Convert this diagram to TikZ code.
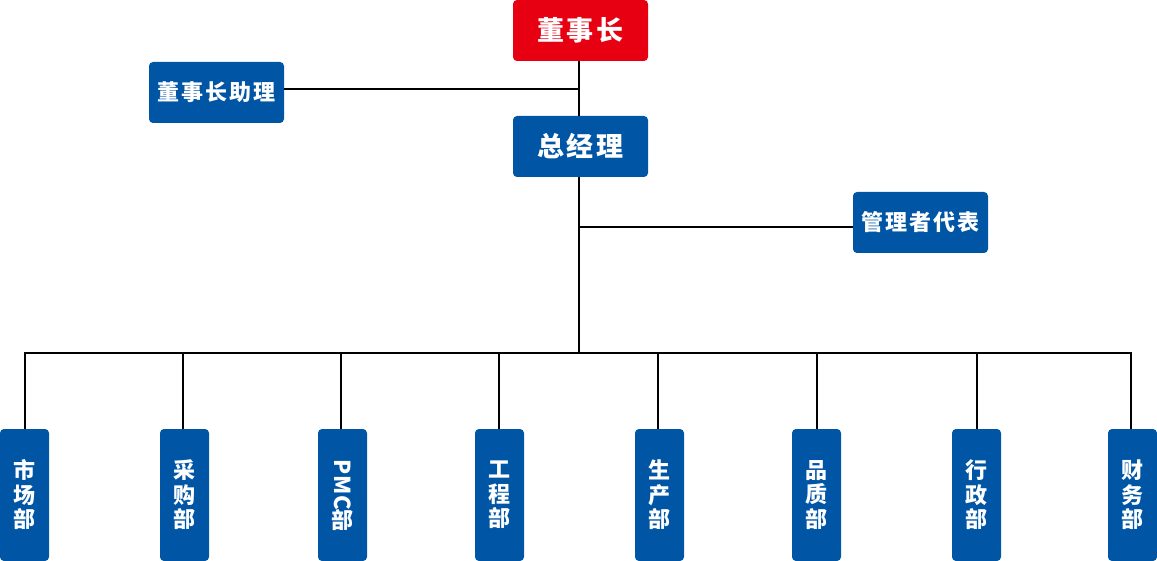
\documentclass[tikz,border=0pt]{standalone}
\usepackage{fontspec}
\newfontfamily\cjk{Noto Sans CJK SC}
\newfontfamily\cjksp{Noto Sans CJK SC}[LetterSpace=9]
\definecolor{boxblue}{HTML}{0055A5}
\definecolor{boxred}{HTML}{E60012}
\begin{document}
\begin{tikzpicture}[x=1pt,y=-1pt,
  box/.style={fill=boxblue,rounded corners=4pt,text=white,inner sep=0pt,font=\cjk\bfseries},
  top/.style={box,minimum width=135pt,minimum height=61pt,font=\cjksp\bfseries\fontsize{27}{30}\selectfont},
  mid/.style={box,minimum width=135pt,minimum height=61pt,font=\cjksp\bfseries\fontsize{22}{26}\selectfont},
  dept/.style={box,minimum width=49pt,minimum height=132pt,align=center,font=\cjk\bfseries\fontsize{22}{24.5}\selectfont},
  link/.style={draw=black,line width=1.8pt}]
\useasboundingbox (0,0) rectangle (1157,561);
\node[top,fill=boxred] (chair) at (580.5,30.5) {董事长};
\node[mid] (asst) at (216.5,92.5) {董事长助理};
\node[top] (gm) at (580.5,146.5) {总经理};
\node[mid] (rep) at (920.5,222.5) {管理者代表};
\coordinate (ja) at (579,89);
\coordinate (jr) at (579,227);
\coordinate (bus) at (579,353);
\node[dept] (d1) at (24.5,495) {市\\场\\部};
\node[dept] (d2) at (184.5,495) {采\\购\\部};
\node[dept] (d3) at (342.5,495) {\rotatebox[origin=c]{-90}{\addfontfeature{LetterSpace=4}PMC}\\[-2pt]部};
\node[dept] (d4) at (499.5,495) {工\\程\\部};
\node[dept] (d5) at (659.5,495) {生\\产\\部};
\node[dept] (d6) at (816.5,495) {品\\质\\部};
\node[dept] (d7) at (976.5,495) {行\\政\\部};
\node[dept] (d8) at (1132.5,495) {财\\务\\部};
\draw[link] (chair.south -| ja) -- (gm.north -| ja);
\draw[link] (asst.east |- ja) -- (ja);
\draw[link] (gm.south -| bus) -- (bus);
\draw[link] (jr) -- (rep.west |- jr);
\foreach \n/\x in {d2/183,d3/341,d4/499,d5/658,d6/817,d7/977}
  \draw[link] (\n.north -| \x,0) -- (\x,353);
\draw[link] (d1.north -| 25,0) -- (25,353) -- (1131,353) -- (d8.north -| 1131,0);
\end{tikzpicture}
\end{document}
